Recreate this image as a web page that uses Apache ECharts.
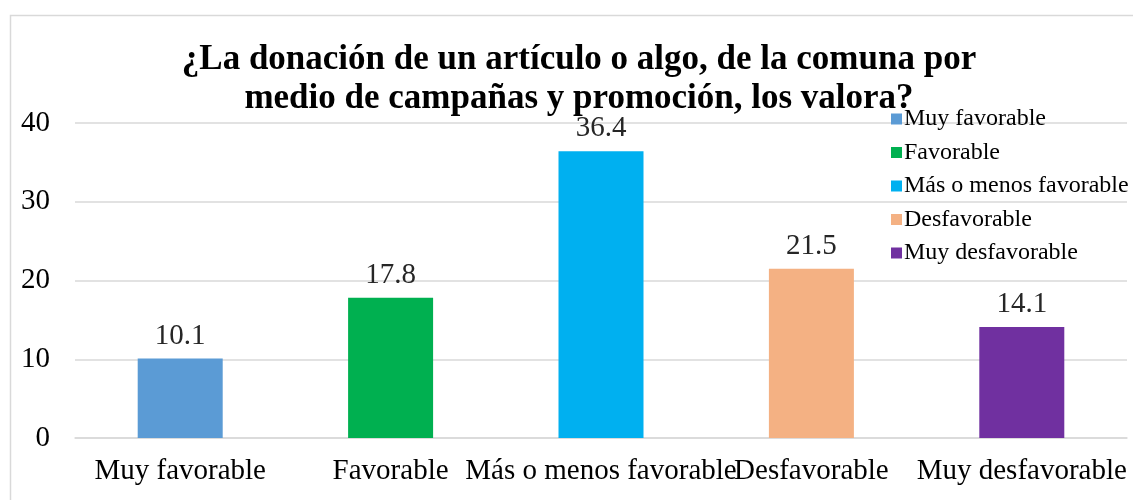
<!DOCTYPE html>
<html>
<head>
<meta charset="utf-8">
<script src="https://cdn.jsdelivr.net/npm/echarts@6/dist/echarts.min.js"></script>
<style>
  html, body { margin: 0; padding: 0; background: #fff; }
  #main { width: 1133px; height: 500px; }
</style>
</head>
<body>
<div id="main"></div>
<script>
const categories = ['Muy favorable', 'Favorable', 'Más o menos favorable', 'Desfavorable', 'Muy desfavorable']
const values = [10.1, 17.8, 36.4, 21.5, 14.1]
const colors = ['#5B9BD5', '#00B050', '#00B0F0', '#F4B183', '#7030A0']
const yTicks = [0, 10, 20, 30, 40]

const font = '"Liberation Serif", "Times New Roman", serif'
let myChart = echarts.init(document.getElementById('main'))

// una serie por categoria para que la leyenda tenga los cinco colores
const series = categories.map((name, i) => ({
  name: name,
  type: 'bar',
  stack: 'total',
  barWidth: 85,
  itemStyle: { color: colors[i] },
  label: {
    show: true,
    position: 'top',
    distance: 8,
    fontFamily: font,
    fontSize: 29,
    color: '#262626',
    formatter: (p) => p.value.toFixed(1)
  },
  data: categories.map((c, j) => (j === i ? values[i] : '-'))
}))

let option = {
  animation: false,
  textStyle: { fontFamily: font },
  title: {
    text: '¿La donación de un artículo o algo, de la comuna por\nmedio de campañas y promoción, los valora?',
    left: 574,
    textAlign: 'center',
    top: 35,
    textStyle: {
      fontFamily: font,
      fontSize: 35,
      fontWeight: 'bold',
      color: '#000',
      lineHeight: 39
    }
  },
  legend: {
    orient: 'vertical',
    left: 886,
    top: 102,
    itemWidth: 11,
    itemHeight: 11,
    itemGap: 9.5,
    icon: 'rect',
    data: categories,
    textStyle: { fontFamily: font, fontSize: 24, color: '#000', padding: [0, 0, 0, -3] }
  },
  grid: { left: 75, right: 6, top: 123, bottom: 62 },
  xAxis: {
    type: 'category',
    data: categories,
    axisTick: { show: false },
    axisLine: { lineStyle: { color: '#d9d9d9', width: 1.5 } },
    axisLabel: { fontFamily: font, fontSize: 29, color: '#000', margin: 19, interval: 0 }
  },
  yAxis: {
    type: 'value',
    min: yTicks[0],
    max: yTicks[yTicks.length - 1],
    interval: 10,
    axisLine: { show: false },
    axisTick: { show: false },
    splitLine: { lineStyle: { color: '#d9d9d9', width: 1.5 } },
    axisLabel: { fontFamily: font, fontSize: 29, color: '#000', margin: 25 }
  },
  graphic: [{
    type: 'rect',
    shape: { x: 10.5, y: 15.5, width: 1140, height: 500 },
    style: { fill: 'none', stroke: '#d9d9d9', lineWidth: 1.5 },
    z: -1
  }],
  series: series
}
myChart.setOption(option)
window.addEventListener('resize', function () {
  myChart.resize()
})
</script>
</body>
</html>
